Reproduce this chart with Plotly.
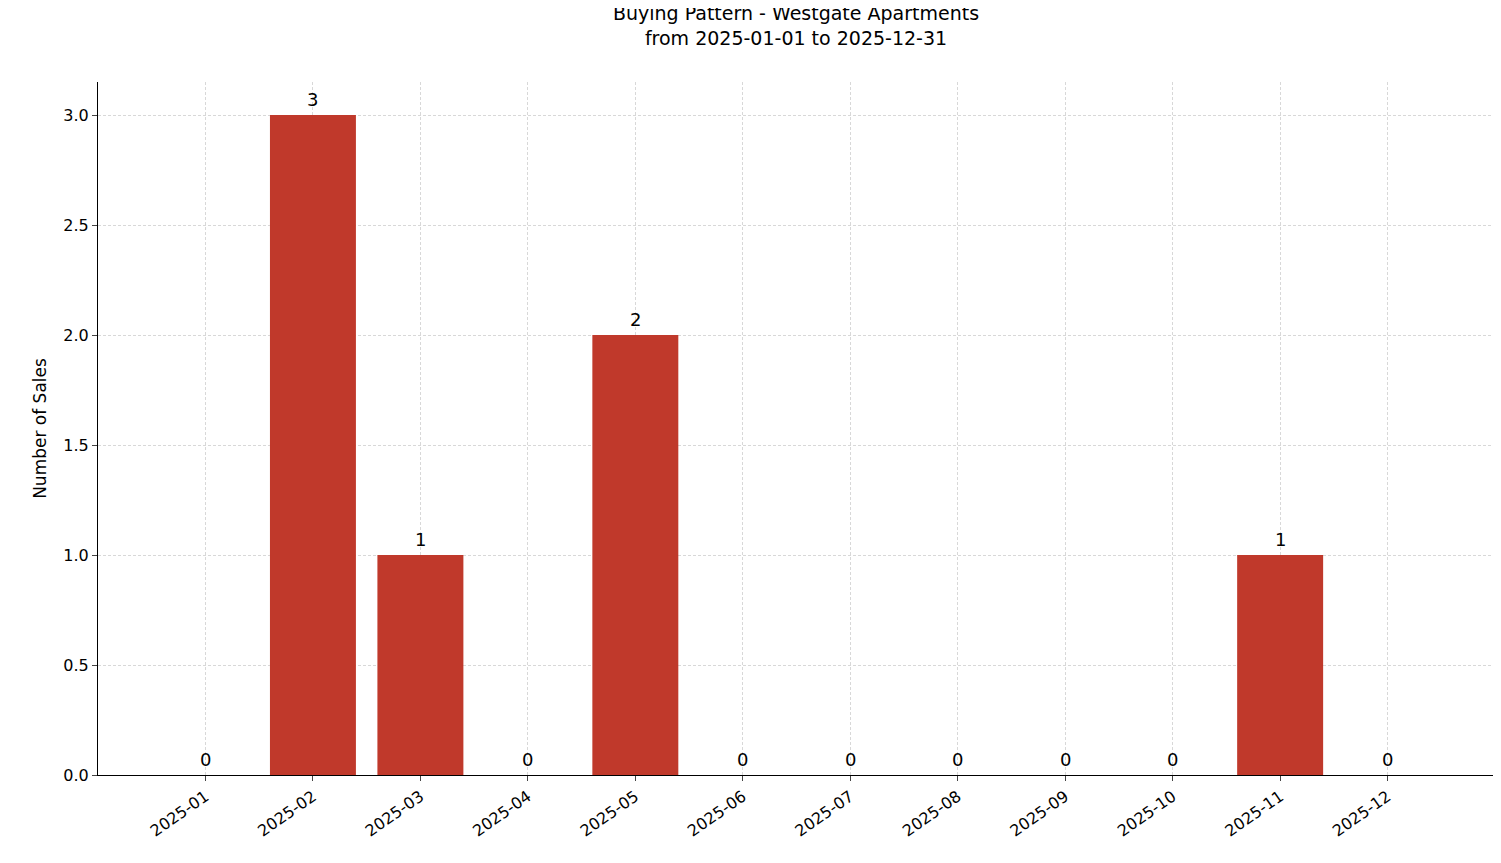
import plotly.graph_objects as go

months = ["2025-01","2025-02","2025-03","2025-04","2025-05","2025-06",
          "2025-07","2025-08","2025-09","2025-10","2025-11","2025-12"]
sales = [0, 3, 1, 0, 2, 0, 0, 0, 0, 0, 1, 0]
yticks = [0.0, 0.5, 1.0, 1.5, 2.0, 2.5, 3.0]

idx = list(range(len(months)))
fig = go.Figure()
fig.add_trace(go.Bar(x=idx, y=sales, width=0.8, marker_color="#c0392b",
                     marker_line_width=0, showlegend=False))
for i, v in zip(idx, sales):
    fig.add_annotation(x=i, y=v, text=str(v), showarrow=False, yanchor="bottom",
                       yshift=3, font=dict(size=18, color="black"))
font = "DejaVu Sans"
fig.update_layout(
    width=1501, height=863, plot_bgcolor="white", paper_bgcolor="white",
    margin=dict(l=90, r=15, t=74, b=96, autoexpand=False),
    font=dict(family=font, size=16, color="black"),
    title=dict(text="Buying Pattern - Westgate Apartments<br>from 2025-01-01 to 2025-12-31",
               x=0.525, xanchor="center", y=1 - 12/863, yanchor="top",
               font=dict(size=19)),
    xaxis=dict(range=[-1.0, 11.99], tickmode="array", tickvals=idx, ticktext=months,
               tickangle=-35, showgrid=True, gridcolor="#d8d8d8", griddash="3px,2px", gridwidth=0.8,
               showline=True, linecolor="black", linewidth=1.2, ticks="outside",
               ticklen=5, zeroline=False, automargin=False),
    yaxis=dict(range=[0, 3.15], tickmode="array", tickvals=yticks,
               ticktext=[f"{v:.1f}" for v in yticks], showgrid=True, gridcolor="#d8d8d8",
               griddash="3px,2px", gridwidth=0.8, showline=True, linecolor="black", linewidth=1.2,
               ticks="outside", ticklen=5, zeroline=False, automargin=False,
               title=dict(text="Number of Sales", font=dict(size=17), standoff=12)),
)
fig.write_html("out.html")
